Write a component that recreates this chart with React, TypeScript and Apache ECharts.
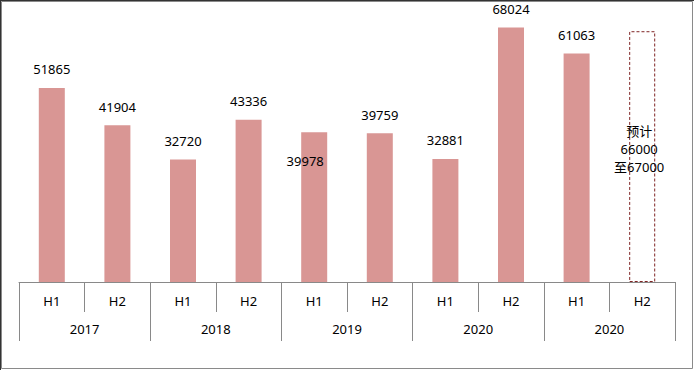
import React, { useEffect, useRef } from "react";
import * as echarts from "echarts";

const halves = ["H1", "H2", "H1", "H2", "H1", "H2", "H1", "H2", "H1", "H2"];
const years = ["2017", "2018", "2019", "2020", "2020"];
const actualValues: (number | string)[] = [51865, 41904, 32720, 43336, 39978, 39759, 32881, 68024, 61063, "-"];
const forecastValues: (number | string)[] = ["-", "-", "-", "-", "-", "-", "-", "-", "-", 67000];
const forecastLabel = "预计\n66000\n至67000";

const FONT = "'Noto Sans', 'Noto Sans CJK SC', sans-serif";
const AXIS_GRAY = "#898989";

export default function App() {
  const ref = useRef<HTMLDivElement>(null);
  useEffect(() => {
    document.body.style.margin = "0";
    const chart = echarts.init(ref.current!, null, { renderer: "svg" });
    chart.setOption({
      animation: false,
      backgroundColor: "#ffffff",
      textStyle: { fontFamily: FONT },
      grid: { left: 19, right: 19, top: 20, bottom: 88, containLabel: false },
      yAxis: { type: "value", min: 0, max: 70000, show: false, splitLine: { show: false } },
      xAxis: [
        {
          type: "category",
          data: halves,
          position: "bottom",
          axisLine: { show: true, onZero: false, lineStyle: { color: AXIS_GRAY, width: 1 } },
          axisTick: { show: true, alignWithLabel: false, length: 30, lineStyle: { color: AXIS_GRAY } },
          axisLabel: { color: "#000", fontSize: 13, margin: 12, fontFamily: FONT },
        },
        {
          type: "category",
          data: years,
          position: "bottom",
          axisLine: { show: false, onZero: false },
          axisTick: { show: true, alignWithLabel: false, length: 59, lineStyle: { color: AXIS_GRAY } },
          axisLabel: { color: "#000", fontSize: 13, margin: 40, fontFamily: FONT },
        },
      ],
      series: [
        {
          type: "bar",
          xAxisIndex: 0,
          data: actualValues.map((v, i) =>
            i === 4
              ? { value: v, label: { offset: [-9, 47] } }
              : v
          ),
          barWidth: 26,
          barGap: "-100%",
          itemStyle: { color: "#D99694" },
          label: {
            show: true,
            position: "top",
            distance: 12,
            color: "#000",
            fontSize: 13,
            fontFamily: FONT,
          },
        },
        {
          type: "bar",
          xAxisIndex: 0,
          data: forecastValues,
          barWidth: 26,
          barGap: "-100%",
          itemStyle: {
            color: "rgba(255,255,255,0)",
            borderColor: "#7F2525",
            borderWidth: 1,
            borderType: [3, 2],
          },
          label: {
            show: true,
            position: "inside",
            offset: [-3, -8],
            formatter: () => forecastLabel,
            color: "#000",
            fontSize: 13,
            lineHeight: 18,
            fontFamily: FONT,
          },
        },
      ],
      graphic: [
        {
          type: "rect",
          shape: { x: 1.5, y: 1.5, width: 691, height: 367 },
          style: { fill: "none", stroke: "#8a8a8a", lineWidth: 1 },
          silent: true,
        },
        {
          type: "line",
          shape: { x1: 0, y1: 0.5, x2: 694, y2: 0.5 },
          style: { stroke: "#333", lineWidth: 1 },
          silent: true,
        },
        {
          type: "line",
          shape: { x1: 0.5, y1: 0, x2: 0.5, y2: 370 },
          style: { stroke: "#333", lineWidth: 1 },
          silent: true,
        },
      ],
    });
    return () => chart.dispose();
  }, []);
  return <div ref={ref} style={{ width: 694, height: 370 }} />;
}
